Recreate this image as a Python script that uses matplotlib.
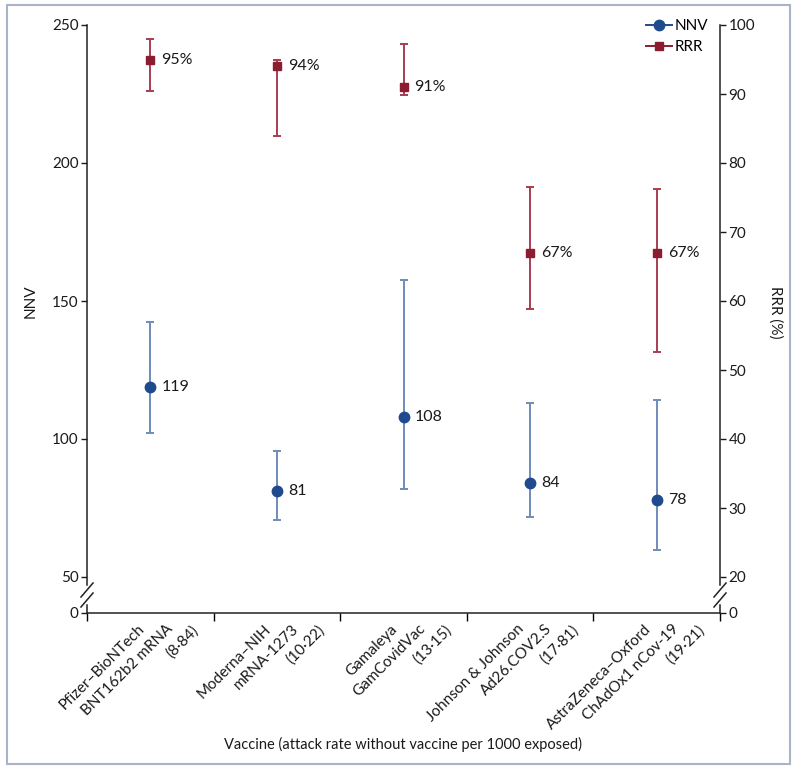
import matplotlib
matplotlib.use('Agg')
import matplotlib.pyplot as plt
from matplotlib.lines import Line2D
from matplotlib.patches import Rectangle
import matplotlib.transforms as mtransforms

plt.rcParams['font.family'] = ['Lato', 'DejaVu Sans']

# ---------------- data ----------------
vaccines = ['Pfizer–BioNTech', 'Moderna–NIH', 'Gamaleya', 'Johnson & Johnson', 'AstraZeneca–Oxford']
products = ['BNT162b2 mRNA', 'mRNA-1273', 'GamCovidVac', 'Ad26.COV2.S', 'ChAdOx1 nCov-19']
attack_rates = ['(8·84)', '(10·22)', '(13·15)', '(17·81)', '(19·21)']

nnv = [119, 81, 108, 84, 78]
nnv_low = [102.2, 70.7, 82.0, 71.7, 59.8]
nnv_high = [142.4, 95.7, 157.6, 113.0, 114.0]

rrr = [95, 94, 91, 67, 67]
rrr_low = [90.5, 83.9, 89.9, 58.8, 52.6]
rrr_high = [97.9, 94.9, 97.2, 76.5, 76.2]

left_ticks = [50, 100, 150, 200, 250]
right_ticks = [20, 30, 40, 50, 60, 70, 80, 90, 100]

# ---------------- style ----------------
NNV_C = '#1f4b8e'
NNV_E = '#6f8cba'
RRR_C = '#8c1c30'
RRR_E = '#a83d53'
TXT = '#1a1a1a'

fig = plt.figure(figsize=(8, 7.7), dpi=100)
W, H = 800, 770
ax_l, ax_r, ax_t, ax_b = 87, 720, 25, 613
ax = fig.add_axes([ax_l / W, 1 - ax_b / H, (ax_r - ax_l) / W, (ax_b - ax_t) / H])
ax2 = ax.twinx()

# axis break: bottom 36 px hold the "0" baseline
f = 36 / (ax_b - ax_t)
ymin_l = (left_ticks[0] - left_ticks[-1] * f) / (1 - f)
ymin_r = (right_ticks[0] - right_ticks[-1] * f) / (1 - f)
ax.set_ylim(ymin_l, left_ticks[-1])
ax2.set_ylim(ymin_r, right_ticks[-1])
ax.set_xlim(-0.5, len(vaccines) - 0.5)

x = list(range(len(vaccines)))

ax.errorbar(x, nnv, yerr=[[v - l for v, l in zip(nnv, nnv_low)], [h - v for v, h in zip(nnv, nnv_high)]],
            fmt='o', color=NNV_C, ms=7.5, ecolor=NNV_E, elinewidth=1.4, capsize=3, capthick=1.4, zorder=3)
ax2.errorbar(x, rrr, yerr=[[v - l for v, l in zip(rrr, rrr_low)], [h - v for v, h in zip(rrr, rrr_high)]],
             fmt='s', color=RRR_C, ms=5.5, ecolor=RRR_E, elinewidth=1.4, capsize=3, capthick=1.4, zorder=3)

for xi, v in zip(x, nnv):
    ax.annotate(str(v), (xi, v), xytext=(8, 0), textcoords='offset points', va='center', ha='left',
                fontsize=11.5, color=TXT)
for xi, v in zip(x, rrr):
    ax2.annotate(f'{v}%', (xi, v), xytext=(8, 0), textcoords='offset points', va='center', ha='left',
                 fontsize=11.5, color=TXT)

# ticks
ax.set_yticks([ymin_l] + left_ticks)
ax.set_yticklabels(['0'] + [str(t) for t in left_ticks])
ax2.set_yticks([ymin_r] + right_ticks)
ax2.set_yticklabels(['0'] + [str(t) for t in right_ticks])
ax.set_xticks([i - 0.5 for i in range(len(vaccines) + 1)])
ax.set_xticklabels([])
ax.tick_params(axis='x', direction='out', length=6, width=1)
ax.tick_params(axis='y', direction='out', length=4.5, width=1, labelsize=11, pad=1.5, colors=TXT)
ax2.tick_params(axis='y', direction='out', length=4.5, width=1, labelsize=11, pad=1.5, colors=TXT)

# spines
for s in ['top', 'right']:
    ax.spines[s].set_visible(False)
for s in ['top', 'left', 'bottom']:
    ax2.spines[s].set_visible(False)
gap_lo, gap_hi = 8 / (ax_b - ax_t), 28 / (ax_b - ax_t)
ax.spines['left'].set_bounds(ymin_l + gap_hi * (left_ticks[-1] - ymin_l), left_ticks[-1])
ax2.spines['right'].set_bounds(ymin_r + gap_hi * (right_ticks[-1] - ymin_r), right_ticks[-1])
for sp in [ax.spines['left'], ax2.spines['right'], ax.spines['bottom']]:
    sp.set_linewidth(1.1)
    sp.set_color('#222222')

dx, dy = 6 / (ax_r - ax_l), 7 / (ax_b - ax_t)
for xs in (0, 1):
    ax.add_line(Line2D([xs, xs], [0, gap_lo], transform=ax.transAxes, color='#222222', lw=1.1, clip_on=False))
    for yc in (23 / (ax_b - ax_t), 13 / (ax_b - ax_t)):
        ax.add_line(Line2D([xs - dx, xs + dx], [yc - dy, yc + dy], transform=ax.transAxes,
                           color='#222222', lw=1.1, clip_on=False))

# category labels (three staggered rotated lines each)
offsets_px = [(-13, -9), (15, -9), (41, -10)]
for i in x:
    for j, line in enumerate([vaccines[i], products[i], attack_rates[i]]):
        ox, oy = offsets_px[j]
        tr = ax.get_xaxis_transform() + mtransforms.ScaledTranslation(ox / 100, oy / 100, fig.dpi_scale_trans)
        ax.text(i, 0, line, transform=tr, rotation=45, rotation_mode='anchor', ha='right', va='top',
                fontsize=11, color=TXT)

# axis labels
ax.set_ylabel('NNV', fontsize=11, color=TXT)
ax.yaxis.set_label_coords(-0.078, (ax_b - 301) / (ax_b - ax_t))
ax2.set_ylabel('RRR (%)', fontsize=11, color=TXT, rotation=270, va='center')
ax2.yaxis.set_label_coords(1.087, (ax_b - 312) / (ax_b - ax_t))
ax.set_xlabel('Vaccine (attack rate without vaccine per 1000 exposed)', fontsize=10.5, color=TXT)
ax.xaxis.set_label_coords(0.5, (ax_b - 737) / (ax_b - ax_t))

# legend
handles = [Line2D([], [], color=NNV_C, marker='o', ms=7.5, lw=1.4),
           Line2D([], [], color=RRR_C, marker='s', ms=5.5, lw=1.4)]
fig.legend(handles, ['NNV', 'RRR'], loc='upper left', bbox_to_anchor=(646 / W, 1 - 19 / H),
           frameon=False, fontsize=11, handlelength=1.7, handletextpad=0.2, borderpad=0,
           borderaxespad=0, labelspacing=0.45)

# outer frame
fig.patches.append(Rectangle((7 / W, 1 - 764 / H), (790 - 7) / W, (764 - 5) / H, transform=fig.transFigure,
                             fill=False, edgecolor='#a9b3ca', lw=1.5))

fig.savefig('out.png', dpi=100)
